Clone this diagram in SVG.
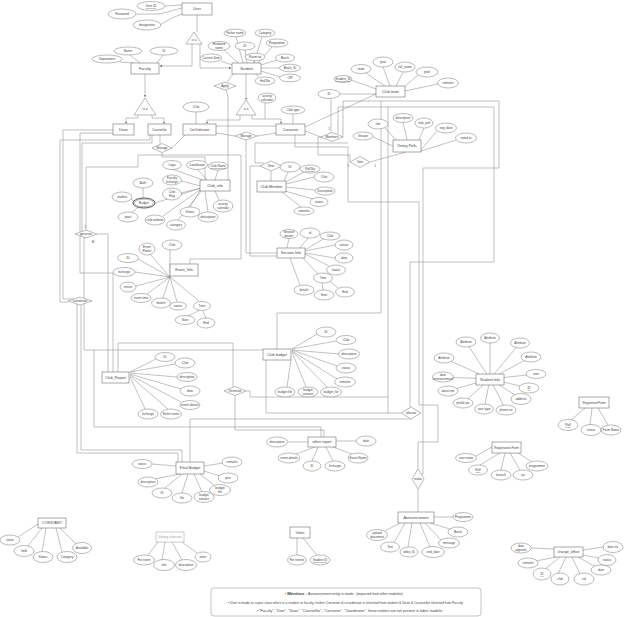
<svg xmlns="http://www.w3.org/2000/svg" width="624" height="617" viewBox="0 0 624 617">
<defs>
<marker id="arr" viewBox="0 0 6 6" refX="6" refY="3" markerWidth="4" markerHeight="4" orient="auto"><path d="M0,0 L6,3 L0,6 z" fill="#333"/></marker>
<style>
.e{fill:#fff;stroke:#555;stroke-width:0.5}
.a{fill:#fff;stroke:#666;stroke-width:0.45}
.r{fill:#fff;stroke:#666;stroke-width:0.45}
.c path{fill:none;stroke:#777;stroke-width:0.45}
.t{font-family:"Liberation Sans",Arial,sans-serif;font-size:3.7px;fill:#444;text-anchor:middle;dominant-baseline:central}
.s{font-size:3.1px}
.u{text-decoration:underline}
.k{font-family:"Liberation Sans",Arial,sans-serif;font-size:3px;fill:#444;text-anchor:middle}
.n{font-family:"Liberation Sans",Arial,sans-serif;font-size:3.1px;fill:#444}
</style>
</defs>
<rect width="624" height="617" fill="#fff"/>
<g id="connectors" class="c">
<path d="M165,6 L182,5"/>
<path d="M136,14 L160,14 L182,8"/>
<path d="M160,25 L172,18 L182,14"/>
<path d="M197,15 L197,32"/>
<path d="M192,43 L192,66 L160,66" marker-end="url(#arr)"/>
<path d="M200,43 L200,68 L231,68" marker-end="url(#arr)"/>
<path d="M130,55 L140,63"/>
<path d="M120,62 L134,63"/>
<path d="M163,55 L157,63"/>
<path d="M145,74 L145,97" marker-end="url(#arr)"/>
<path d="M138,115 L138,118 L126,118 L126,123.5" marker-end="url(#arr)"/>
<path d="M152,115 L152,118 L164,118 L164,123.5" marker-end="url(#arr)"/>
<path d="M236,37 L243,63"/>
<path d="M262,37 L254,63"/>
<path d="M224,50 L238,63"/>
<path d="M245,50 L247,63"/>
<path d="M272,47 L258,63"/>
<path d="M255,61 L253,63"/>
<path d="M221,61 L232,65"/>
<path d="M277,60 L261,65"/>
<path d="M280,68 L261,68"/>
<path d="M280,77 L261,71"/>
<path d="M259,77 L256,74"/>
<path d="M246,74 L246,99.5" marker-end="url(#arr)"/>
<path d="M240,115 L240,120 L207,120 L207,123.5" marker-end="url(#arr)"/>
<path d="M252,115 L252,119 L281,119 L281,123.5" marker-end="url(#arr)"/>
<path d="M265,103 L265,119"/>
<path d="M233,74 L227,82"/>
<path d="M226,90 L228,96 L228,180"/>
<path d="M196,112 L196,124"/>
<path d="M293,114 L293,124"/>
<path d="M305,127 L376,94"/>
<path d="M351,80 L376,89"/>
<path d="M366,73 L385,86"/>
<path d="M383,67 L390,86"/>
<path d="M403,72 L396,86"/>
<path d="M418,75 L404,87"/>
<path d="M438,84 L405,91"/>
<path d="M340,94 L376,94"/>
<path d="M385,128 L406,151"/>
<path d="M403,122 L407,140"/>
<path d="M373,137 L395,147"/>
<path d="M424,128 L419,140"/>
<path d="M437,131 L420,151"/>
<path d="M456,140 L421,151"/>
<path d="M370,162 L406,152"/>
<path d="M321,137 L318,137 L318,155 L350,155 L350,162"/>
<path d="M331,99 L331,133"/>
<path d="M305,131 L321,137"/>
<path d="M343,137 L343,101 L499,101 L499,168 L423,168 L423,474 L421,474"/>
<path d="M338,134 L338,107 L494,107 L494,262 L410,262 L410,407"/>
<path d="M381,101 L381,313 L277,313 L277,349"/>
<path d="M388,107 L388,413 L401,413"/>
<path d="M246,391 L250,391 L250,397 L388,397"/>
<path d="M266,360 L266,413 L388,413"/>
<path d="M190,462 L190,419 L411,419"/>
<path d="M295,135 L295,147 L348,147 L348,202 L419,202 L419,405 L438,405 L438,442 L418,442 L418,469"/>
<path d="M418,489 L418,512"/>
<path d="M246,140 L246,253 L277,253"/>
<path d="M260,166 L250,166 L250,256 L277,256"/>
<path d="M271,171 L271,181"/>
<path d="M264,163 L255,163 L255,143 L348,143"/>
<path d="M216,133 L235,136"/>
<path d="M257,136 L276,133"/>
<path d="M216,126 L276,126"/>
<path d="M160,135 L160,143.5"/>
<path d="M172,148 L185,135"/>
<path d="M162,152.5 L162,157 L205,157 L205,180"/>
<path d="M150,135 L150,140 L60,140 L60,302 L68,302"/>
<path d="M113,130 L63,130 L63,299 L74,299"/>
<path d="M113,133 L80,133 L80,232"/>
<path d="M152,135 L152,143 L82,143 L82,231.5"/>
<path d="M86,230 L86,167 L138,167 L138,155 L241,155 L241,259 L190,259 L190,264"/>
<path d="M77,304 L77,453 L178,453 L178,462"/>
<path d="M81,305 L81,450 L182,450 L182,462"/>
<path d="M84,237 L84,350 L263,350"/>
<path d="M97,234 L108,234 L108,372"/>
<path d="M80,236 L80,273 L113,273 L113,372"/>
<path d="M118,372 L118,343 L233,343 L233,387"/>
<path d="M94,350 L94,427 L321,427 L321,437"/>
<path d="M235,396 L235,430 L324,430 L324,437"/>
<path d="M172,169 L203,180"/>
<path d="M197,169 L207,180"/>
<path d="M218,170 L215,180"/>
<path d="M181,181 L201,186"/>
<path d="M181,193 L201,188"/>
<path d="M155,203 L201,188"/>
<path d="M190,207 L201,189"/>
<path d="M208,212 L205,191"/>
<path d="M163,216 L201,189"/>
<path d="M178,220 L202,190"/>
<path d="M219,200 L215,191"/>
<path d="M143,188 L143,198"/>
<path d="M131,199 L134,201"/>
<path d="M132,212 L139,207"/>
<path d="M288,172 L284,181"/>
<path d="M304,172 L286,182"/>
<path d="M314,177 L286,184"/>
<path d="M315,190 L286,187"/>
<path d="M313,199 L285,191"/>
<path d="M301,207 L282,192"/>
<path d="M289,238 L287,248"/>
<path d="M308,238 L300,248"/>
<path d="M323,239 L305,250"/>
<path d="M335,245 L305,251"/>
<path d="M335,258 L305,253"/>
<path d="M329,266 L305,254"/>
<path d="M318,274 L303,258"/>
<path d="M330,281 L338,288"/>
<path d="M322,283 L323,290"/>
<path d="M300,285 L290,258"/>
<path d="M170,250 L170,277"/>
<path d="M150,254 L170,277"/>
<path d="M138,259 L170,277"/>
<path d="M135,272 L170,277"/>
<path d="M136,286 L170,277"/>
<path d="M147,294 L170,277"/>
<path d="M163,298 L170,277"/>
<path d="M177,302 L170,277"/>
<path d="M199,301 L170,277"/>
<path d="M188,316 L200,310"/>
<path d="M206,318 L203,311"/>
<path d="M156,359 L130,372"/>
<path d="M175,364 L130,372"/>
<path d="M177,377 L130,373"/>
<path d="M181,389 L130,374"/>
<path d="M181,402 L130,375"/>
<path d="M168,409 L130,376"/>
<path d="M145,409 L130,377"/>
<path d="M317,334 L292,349"/>
<path d="M336,341 L292,349"/>
<path d="M339,354 L292,350"/>
<path d="M337,366 L292,350"/>
<path d="M337,379 L292,351"/>
<path d="M327,387 L292,351"/>
<path d="M306,387 L292,352"/>
<path d="M287,387 L291,360"/>
<path d="M288,442 L308,442"/>
<path d="M356,441 L336,441"/>
<path d="M296,454 L315,447"/>
<path d="M352,454 L333,447"/>
<path d="M312,461 L318,447"/>
<path d="M333,461 L326,447"/>
<path d="M152,464 L176,466"/>
<path d="M155,479 L180,474"/>
<path d="M165,488 L182,474"/>
<path d="M182,493 L188,474"/>
<path d="M202,492 L194,474"/>
<path d="M215,486 L200,474"/>
<path d="M220,476 L204,471"/>
<path d="M223,463 L204,466"/>
<path d="M490,379 L466,342"/>
<path d="M490,379 L490,338"/>
<path d="M490,379 L520,343"/>
<path d="M490,379 L531,357"/>
<path d="M490,379 L444,358"/>
<path d="M490,379 L536,374"/>
<path d="M490,379 L529,388"/>
<path d="M490,379 L521,399"/>
<path d="M490,379 L506,410"/>
<path d="M490,379 L484,409"/>
<path d="M490,379 L463,403"/>
<path d="M490,379 L448,391"/>
<path d="M490,379 L443,377"/>
<path d="M571,420 L585,408"/>
<path d="M590,425 L592,408"/>
<path d="M608,425 L598,408"/>
<path d="M476,456 L492,447"/>
<path d="M480,465 L500,453"/>
<path d="M501,470 L505,453"/>
<path d="M520,470 L510,453"/>
<path d="M532,462 L518,453"/>
<path d="M453,517 L434,517"/>
<path d="M450,529 L430,523"/>
<path d="M441,540 L425,523"/>
<path d="M430,547 L420,523"/>
<path d="M408,547 L412,523"/>
<path d="M394,543 L405,523"/>
<path d="M385,531 L400,523"/>
<path d="M297,555 L297,538"/>
<path d="M317,555 L303,538"/>
<path d="M148,555 L158,542"/>
<path d="M162,560 L165,542"/>
<path d="M182,560 L172,542"/>
<path d="M197,553 L182,542"/>
<path d="M18,537 L38,524"/>
<path d="M28,546 L42,528"/>
<path d="M42,552 L46,528"/>
<path d="M62,552 L56,528"/>
<path d="M76,544 L60,528"/>
<path d="M531,548 L554,549"/>
<path d="M536,561 L556,557"/>
<path d="M545,569 L560,557"/>
<path d="M558,574 L566,557"/>
<path d="M580,574 L572,557"/>
<path d="M594,566 L578,557"/>
<path d="M599,558 L583,555"/>
<path d="M604,547 L583,550"/>
</g>
<g id="labels">
<text class="k" x="85" y="228">1</text><text class="k" x="93" y="243">M</text>
<text class="k" x="348" y="167">1</text><text class="k" x="375" y="167">1</text>
<text class="k" x="329" y="130">1</text>
</g>
<g id="isa-user"><path class="r" d="M194,32 L202,44 L186,44 Z"/><text class="t s" x="194" y="39.5">is a</text></g>
<g id="isa-faculty"><path class="r" d="M145,98 L156,115 L134,115 Z"/><text class="t s" x="145" y="109">is a</text></g>
<g id="isa-student"><path class="r" d="M246,100 L256,115 L236,115 Z"/><text class="t s" x="246" y="109">is a</text></g>
<g id="rel-apply"><path class="r" d="M214,86 L225,82 L236,86 L225,90 Z"/><text class="t s" x="225" y="86">Apply</text></g>
<g id="rel-manage1"><path class="r" d="M152,148 L162,143.5 L172,148 L162,152.5 Z"/><text class="t s" x="162" y="148">Manage</text></g>
<g id="rel-manage2"><path class="r" d="M235,136 L246,132 L257,136 L246,140 Z"/><text class="t s" x="246" y="136">Manage</text></g>
<g id="rel-members"><path class="r" d="M321,137 L332,132.5 L343,137 L332,141.5 Z"/><text class="t s" x="332" y="137">Members</text></g>
<g id="rel-view"><path class="r" d="M260,166 L271,161 L282,166 L271,171 Z"/><text class="t s" x="271" y="166">View</text></g>
<g id="rel-vote"><path class="r" d="M350,162 L360,156.5 L370,162 L360,167.5 Z"/><text class="t s" x="360" y="162">Vote</text></g>
<g id="rel-generate1"><path class="r" d="M75,234 L86,230 L97,234 L86,238 Z"/><text class="t s" x="86" y="234">generate</text></g>
<g id="rel-coordinate"><path class="r" d="M68,301 L80,297 L92,301 L80,305 Z"/><text class="t s" x="80" y="301">coordinate</text></g>
<g id="rel-generate2"><path class="r" d="M224,391 L235,386.5 L246,391 L235,395.5 Z"/><text class="t s" x="235" y="391">Generate</text></g>
<g id="rel-allocate"><path class="r" d="M401,413 L411,407 L421,413 L411,419 Z"/><text class="t s" x="411" y="413">allocate</text></g>
<g id="rel-make"><path class="r" d="M418,469 L424,479 L418,489 L412,479 Z"/><text class="t s" x="418" y="479">make</text></g>
<g id="e-user"><rect class="e" x="182" y="3" width="30" height="12"/><text class="t" x="197" y="9">User</text></g>
<g id="e-faculty"><rect class="e" x="131" y="63" width="28" height="11"/><text class="t" x="145" y="68.5">Faculty</text></g>
<g id="e-student"><rect class="e" x="232" y="63" width="29" height="11"/><text class="t" x="246.5" y="68.5">Student</text></g>
<g id="e-dean"><rect class="e" x="113" y="124" width="21" height="11"/><text class="t" x="123.5" y="129.5">Dean</text></g>
<g id="e-counsellor"><rect class="e" x="148" y="124" width="23" height="11"/><text class="t s" x="159.5" y="129.5">Counsellor</text></g>
<g id="e-coordinator"><rect class="e" x="183" y="124" width="33" height="11"/><text class="t" x="199.5" y="129.5">CoOrdinator</text></g>
<g id="e-convener"><rect class="e" x="276" y="124" width="29" height="11"/><text class="t" x="290.5" y="129.5">Convener</text></g>
<g id="e-clubteam"><rect class="e" x="376" y="86" width="29" height="11"/><text class="t" x="390.5" y="91.5">Club team</text></g>
<g id="e-votingpolls"><rect class="e" x="393" y="140" width="28" height="12"/><text class="t" x="407" y="146">Voting Polls</text></g>
<g id="e-clubinfo"><rect class="e" x="200" y="180" width="30" height="11"/><text class="t" x="215" y="185.5">Club_info</text></g>
<g id="e-clubmember"><rect class="e" x="257" y="181" width="29" height="11"/><text class="t" x="271.5" y="186.5">Club Member</text></g>
<g id="e-sessioninfo"><rect class="e" x="277" y="248" width="28" height="10"/><text class="t" x="291" y="253">Session Info</text></g>
<g id="e-eventinfo"><rect class="e" x="170" y="264" width="28" height="12"/><text class="t" x="184" y="270">Event_Info</text></g>
<g id="e-clubreport"><rect class="e" x="102" y="372" width="27" height="11"/><text class="t" x="115.5" y="377.5">Club_Report</text></g>
<g id="e-clubbudget"><rect class="e" x="263" y="349" width="28" height="11"/><text class="t" x="277" y="354.5">Club budget</text></g>
<g id="e-otherreport"><rect class="e" x="308" y="437" width="28" height="10"/><text class="t" x="322" y="442">other report</text></g>
<g id="e-finalbudget"><rect class="e" x="176" y="462" width="28" height="12"/><text class="t" x="190" y="468">Final Budget</text></g>
<g id="e-studentinfo"><rect class="e" x="476" y="374" width="28" height="11"/><text class="t" x="490" y="379.5">Student Info</text></g>
<g id="e-registeredform"><rect class="e" x="579" y="397" width="30" height="11"/><text class="t s" x="594" y="402.5">Registered Form</text></g>
<g id="e-registrationform"><rect class="e" x="492" y="442" width="29" height="11"/><text class="t s" x="506.5" y="447.5">Registration Form</text></g>
<g id="e-announcement"><rect class="e" x="398" y="512" width="36" height="11"/><text class="t" x="416" y="517.5">Announcement</text></g>
<g id="e-votes"><rect class="e" x="290" y="527" width="20" height="11"/><text class="t" x="300" y="532.5">Votes</text></g>
<g id="e-votingchoices"><rect class="e" x="156" y="532" width="28" height="10" style="stroke:#999"/><text class="t" x="170" y="537" style="fill:#999">Voting choices</text></g>
<g id="e-constant"><rect class="e" x="38" y="518" width="28" height="10"/><text class="t" x="52" y="523">CONSTANT</text></g>
<g id="e-chargeoffice"><rect class="e" x="554" y="547" width="29" height="10"/><text class="t" x="568.5" y="552">charge_office</text></g>
<g id="attr-user"><ellipse class="a" cx="151" cy="6" rx="14" ry="4.5"/><text class="t s u" x="151" y="6">User ID</text><ellipse class="a" cx="122" cy="14" rx="14" ry="5"/><text class="t s" x="122" y="14">Password</text><ellipse class="a" cx="147" cy="25" rx="14" ry="5"/><text class="t s" x="147" y="25">designation</text></g>
<g id="attr-faculty"><ellipse class="a" cx="128" cy="51" rx="14" ry="4"/><text class="t s" x="128" y="51">Name</text><ellipse class="a" cx="107" cy="59" rx="15" ry="4"/><text class="t s" x="107" y="59">Department</text><ellipse class="a" cx="164" cy="51" rx="14" ry="4"/><text class="t s" x="164" y="51">ID</text></g>
<g id="attr-student">
<ellipse class="a" cx="235" cy="33" rx="11" ry="3.8"/><text class="t s" x="235" y="33">Father name</text>
<ellipse class="a" cx="265" cy="33" rx="10" ry="3.8"/><text class="t s" x="265" y="33">Category</text>
<ellipse class="a" cx="219" cy="46" rx="11" ry="4.5"/><text class="t s" x="219" y="46"><tspan x="219" dy="-1.6">Husband</tspan><tspan x="219" dy="3.2">name</tspan></text>
<ellipse class="a" cx="245" cy="46" rx="10" ry="4"/><text class="t s" x="245" y="46">ID</text>
<ellipse class="a" cx="277" cy="43" rx="11" ry="4"/><text class="t s" x="277" y="43">Programme</text>
<ellipse class="a" cx="255" cy="57" rx="10" ry="3.8"/><text class="t s" x="255" y="57">Room no</text>
<ellipse class="a" cx="211" cy="58" rx="11" ry="4"/><text class="t s" x="211" y="58">Current Sem</text>
<ellipse class="a" cx="285" cy="58" rx="9.5" ry="4"/><text class="t s" x="285" y="58">Batch</text>
<ellipse class="a" cx="290" cy="68" rx="10.5" ry="3.8"/><text class="t s" x="290" y="68">Batch_ID</text>
<ellipse class="a" cx="290" cy="78" rx="10.5" ry="3.8"/><text class="t s" x="290" y="78">CPI</text>
<ellipse class="a" cx="265" cy="81" rx="10" ry="4"/><text class="t s" x="265" y="81">Hall No</text>
<ellipse class="a" cx="267" cy="98" rx="9" ry="5"/><text class="t s" x="267" y="98"><tspan x="267" dy="-1.6">activity</tspan><tspan x="267" dy="3.2">calendar</tspan></text>
</g>
<g id="attr-coordinator"><ellipse class="a" cx="196" cy="107" rx="13" ry="5"/><text class="t s" x="196" y="107">Club</text></g>
<g id="attr-convener"><ellipse class="a" cx="293" cy="110" rx="12" ry="4"/><text class="t s" x="293" y="110">Club type</text></g>
<g id="attr-clubteam">
<ellipse class="a" cx="343" cy="79" rx="9" ry="3.5"/><text class="t s u" x="343" y="79">Student_ID</text>
<ellipse class="a" cx="361" cy="69" rx="10" ry="4.5"/><text class="t s" x="361" y="69">team</text>
<ellipse class="a" cx="383" cy="62" rx="10" ry="5"/><text class="t s" x="383" y="62">year</text>
<ellipse class="a" cx="405" cy="67" rx="10" ry="5"/><text class="t s" x="405" y="67">full_name</text>
<ellipse class="a" cx="427" cy="72" rx="11" ry="5"/><text class="t s" x="427" y="72">pole</text>
<ellipse class="a" cx="448" cy="83" rx="10.5" ry="5"/><text class="t s" x="448" y="83">remarks</text>
<ellipse class="a" cx="329" cy="94" rx="11" ry="4.5"/><text class="t s" x="329" y="94">ID</text>
</g>
<g id="attr-votingpolls">
<ellipse class="a" cx="378" cy="124" rx="10" ry="5"/><text class="t s" x="378" y="124">title</text>
<ellipse class="a" cx="403" cy="118" rx="10" ry="4.5"/><text class="t s" x="403" y="118">description</text>
<ellipse class="a" cx="363" cy="136" rx="10" ry="4"/><text class="t s" x="363" y="136">Groups</text>
<ellipse class="a" cx="424" cy="123" rx="9" ry="5"/><text class="t s" x="424" y="123">club_poll</text>
<ellipse class="a" cx="446" cy="128" rx="10.5" ry="5"/><text class="t s" x="446" y="128">exp_date</text>
<ellipse class="a" cx="466" cy="138" rx="10.5" ry="5"/><text class="t s" x="466" y="138">voted to</text>
</g>
<g id="attr-clubinfo">
<ellipse class="a" cx="172" cy="165" rx="9.5" ry="4.5"/><text class="t s" x="172" y="165">Logo</text>
<ellipse class="a" cx="197" cy="165" rx="10.5" ry="4.5"/><text class="t s" x="197" y="165">Coordinator</text>
<ellipse class="a" cx="218" cy="166" rx="10" ry="4"/><text class="t s u" x="218" y="166">Club Name</text>
<ellipse class="a" cx="172" cy="180" rx="9.5" ry="5"/><text class="t s" x="172" y="180"><tspan x="172" dy="-1.6">Faculty</tspan><tspan x="172" dy="3.2">Incharge</tspan></text>
<ellipse class="a" cx="143" cy="183" rx="10" ry="5"/><text class="t s" x="143" y="183">Auth</text>
<ellipse class="a" cx="172" cy="194" rx="9.5" ry="6"/><text class="t s" x="172" y="194"><tspan x="172" dy="-1.6">Club</tspan><tspan x="172" dy="3.2">Flag</tspan></text>
<ellipse class="a" cx="144" cy="203" rx="11" ry="5" style="stroke:#444;stroke-width:0.9"/><ellipse class="a" cx="144" cy="203" rx="9.5" ry="3.8"/><text class="t s" x="144" y="203">Budget</text>
<ellipse class="a" cx="122" cy="197" rx="10" ry="5"/><text class="t s" x="122" y="197">student</text>
<ellipse class="a" cx="128" cy="217" rx="10" ry="5"/><text class="t s" x="128" y="217">sport</text>
<ellipse class="a" cx="155" cy="220" rx="10" ry="5"/><text class="t s" x="155" y="220">club website</text>
<ellipse class="a" cx="176" cy="225" rx="9.5" ry="5"/><text class="t s" x="176" y="225">category</text>
<ellipse class="a" cx="190" cy="212" rx="10" ry="5"/><text class="t s" x="190" y="212">Status</text>
<ellipse class="a" cx="208" cy="217" rx="10" ry="5"/><text class="t s" x="208" y="217">description</text>
<ellipse class="a" cx="223" cy="206" rx="10" ry="6"/><text class="t s" x="223" y="206"><tspan x="223" dy="-1.6">activity</tspan><tspan x="223" dy="3.2">calendar</tspan></text>
</g>
<g id="attr-clubmember">
<ellipse class="a" cx="290" cy="167" rx="10" ry="5"/><text class="t s" x="290" y="167">ID</text>
<ellipse class="a" cx="310" cy="169" rx="10" ry="4"/><text class="t s u" x="310" y="169">Roll No</text>
<ellipse class="a" cx="324" cy="177" rx="10" ry="5"/><text class="t s" x="324" y="177">Club</text>
<ellipse class="a" cx="325" cy="191" rx="10" ry="4"/><text class="t s" x="325" y="191">Description</text>
<ellipse class="a" cx="319" cy="202" rx="9" ry="4.5"/><text class="t s" x="319" y="202">status</text>
<ellipse class="a" cx="304" cy="211" rx="10" ry="4"/><text class="t s" x="304" y="211">remarks</text>
</g>
<g id="attr-sessioninfo">
<ellipse class="a" cx="289" cy="234" rx="9" ry="4.5"/><text class="t s" x="289" y="234"><tspan x="289" dy="-1.6">Session</tspan><tspan x="289" dy="3.2">poster</tspan></text>
<ellipse class="a" cx="310" cy="233" rx="10" ry="5"/><text class="t s" x="310" y="233">id</text>
<ellipse class="a" cx="330" cy="236" rx="10" ry="4"/><text class="t s" x="330" y="236">Club</text>
<ellipse class="a" cx="344" cy="245" rx="9" ry="5"/><text class="t s" x="344" y="245">venue</text>
<ellipse class="a" cx="344" cy="258" rx="9" ry="5"/><text class="t s" x="344" y="258">date</text>
<ellipse class="a" cx="336" cy="270" rx="9.5" ry="5"/><text class="t s" x="336" y="270">status</text>
<ellipse class="a" cx="323" cy="278" rx="9.5" ry="5"/><text class="t s" x="323" y="278">Time</text>
<ellipse class="a" cx="345" cy="292" rx="9.5" ry="5"/><text class="t s" x="345" y="292">End</text>
<ellipse class="a" cx="324" cy="295" rx="10" ry="5"/><text class="t s" x="324" y="295">Start</text>
<ellipse class="a" cx="304" cy="290" rx="10" ry="5"/><text class="t s" x="304" y="290">details</text>
</g>
<g id="attr-eventinfo">
<ellipse class="a" cx="172" cy="245" rx="10" ry="5"/><text class="t s" x="172" y="245">Club</text>
<ellipse class="a" cx="147" cy="249" rx="8" ry="6"/><text class="t s" x="147" y="249"><tspan x="147" dy="-1.6">Event</tspan><tspan x="147" dy="3.2">Poster</tspan></text>
<ellipse class="a" cx="128" cy="258" rx="10.5" ry="4.5"/><text class="t s" x="128" y="258">ID</text>
<ellipse class="a" cx="124" cy="272" rx="11" ry="4.5"/><text class="t s" x="124" y="272">Incharge</text>
<ellipse class="a" cx="128" cy="287" rx="8" ry="5"/><text class="t s" x="128" y="287">venue</text>
<ellipse class="a" cx="141" cy="298" rx="10" ry="4.5"/><text class="t s" x="141" y="298">event time</text>
<ellipse class="a" cx="161" cy="303" rx="9.5" ry="5"/><text class="t s" x="161" y="303">details</text>
<ellipse class="a" cx="178" cy="306" rx="8.5" ry="4"/><text class="t s" x="178" y="306">status</text>
<ellipse class="a" cx="202" cy="306" rx="8.5" ry="4.5"/><text class="t s" x="202" y="306">Time</text>
<ellipse class="a" cx="185" cy="320" rx="10" ry="4.5"/><text class="t s" x="185" y="320">Start</text>
<ellipse class="a" cx="206" cy="323" rx="9" ry="5"/><text class="t s" x="206" y="323">End</text>
</g>
<g id="attr-clubreport">
<ellipse class="a" cx="165" cy="357" rx="10" ry="4.5"/><text class="t s" x="165" y="357">ID</text>
<ellipse class="a" cx="185" cy="363" rx="10" ry="5"/><text class="t s" x="185" y="363">Club</text>
<ellipse class="a" cx="187" cy="377" rx="10" ry="4.5"/><text class="t s" x="187" y="377">description</text>
<ellipse class="a" cx="190" cy="391" rx="10" ry="5"/><text class="t s" x="190" y="391">date</text>
<ellipse class="a" cx="190" cy="405" rx="10" ry="4.5"/><text class="t s" x="190" y="405">event details</text>
<ellipse class="a" cx="171" cy="414" rx="10.5" ry="5"/><text class="t s" x="171" y="414">Event name</text>
<ellipse class="a" cx="148" cy="414" rx="10" ry="5"/><text class="t s" x="148" y="414">Incharge</text>
</g>
<g id="attr-clubbudget">
<ellipse class="a" cx="326" cy="332" rx="10" ry="5"/><text class="t s" x="326" y="332">ID</text>
<ellipse class="a" cx="346" cy="340" rx="10" ry="4.5"/><text class="t s" x="346" y="340">Club</text>
<ellipse class="a" cx="349" cy="354" rx="10.5" ry="5"/><text class="t s" x="349" y="354">description</text>
<ellipse class="a" cx="346" cy="368" rx="10" ry="5"/><text class="t s" x="346" y="368">status</text>
<ellipse class="a" cx="345" cy="382" rx="10.5" ry="5"/><text class="t s" x="345" y="382">remarks</text>
<ellipse class="a" cx="331" cy="392" rx="10.5" ry="5"/><text class="t s" x="331" y="392">budget_for</text>
<ellipse class="a" cx="308" cy="392" rx="10" ry="5"/><text class="t s" x="308" y="392"><tspan x="308" dy="-1.6">budget</tspan><tspan x="308" dy="3.2">amount</tspan></text>
<ellipse class="a" cx="285" cy="392" rx="10" ry="5"/><text class="t s" x="285" y="392">budget file</text>
</g>
<g id="attr-otherreport">
<ellipse class="a" cx="277" cy="442" rx="10.5" ry="5"/><text class="t s" x="277" y="442">description</text>
<ellipse class="a" cx="366" cy="441" rx="10" ry="5"/><text class="t s" x="366" y="441">date</text>
<ellipse class="a" cx="289" cy="458" rx="11" ry="5"/><text class="t s" x="289" y="458">event details</text>
<ellipse class="a" cx="358" cy="458" rx="10" ry="5"/><text class="t s" x="358" y="458">Event Name</text>
<ellipse class="a" cx="312" cy="466" rx="9" ry="5"/><text class="t s" x="312" y="466">ID</text>
<ellipse class="a" cx="335" cy="466" rx="10" ry="5"/><text class="t s" x="335" y="466">Incharge</text>
</g>
<g id="attr-finalbudget">
<ellipse class="a" cx="142" cy="464" rx="10" ry="4.5"/><text class="t s" x="142" y="464">status</text>
<ellipse class="a" cx="148" cy="482" rx="10" ry="5"/><text class="t s" x="148" y="482">description</text>
<ellipse class="a" cx="162" cy="493" rx="10" ry="5"/><text class="t s" x="162" y="493">ID</text>
<ellipse class="a" cx="182" cy="498" rx="10" ry="5"/><text class="t s" x="182" y="498">file</text>
<ellipse class="a" cx="204" cy="497" rx="10" ry="5.5"/><text class="t s" x="204" y="497"><tspan x="204" dy="-1.6">budget</tspan><tspan x="204" dy="3.2">amount</tspan></text>
<ellipse class="a" cx="220" cy="490" rx="10.5" ry="5.5"/><text class="t s" x="220" y="490"><tspan x="220" dy="-1.6">budget</tspan><tspan x="220" dy="3.2">file</tspan></text>
<ellipse class="a" cx="228" cy="478" rx="10" ry="5"/><text class="t s" x="228" y="478">year</text>
<ellipse class="a" cx="232" cy="462" rx="10" ry="5"/><text class="t s" x="232" y="462">remarks</text>
</g>
<g id="attr-studentinfo">
<ellipse class="a" cx="466" cy="342" rx="10" ry="5"/><text class="t s" x="466" y="342">Attribute</text>
<ellipse class="a" cx="490" cy="338" rx="9.5" ry="5"/><text class="t s" x="490" y="338">Attribute</text>
<ellipse class="a" cx="520" cy="343" rx="9.5" ry="5"/><text class="t s" x="520" y="343">Attribute</text>
<ellipse class="a" cx="531" cy="357" rx="10" ry="5"/><text class="t s" x="531" y="357">Attribute</text>
<ellipse class="a" cx="444" cy="358" rx="10" ry="5"/><text class="t s" x="444" y="358">Attribute</text>
<ellipse class="a" cx="536" cy="374" rx="10" ry="4.5"/><text class="t s" x="536" y="374">user</text>
<ellipse class="a" cx="529" cy="388" rx="10" ry="5"/><text class="t s u" x="529" y="388">ID</text>
<ellipse class="a" cx="521" cy="399" rx="10" ry="5.5"/><text class="t s" x="521" y="399">address</text>
<ellipse class="a" cx="506" cy="410" rx="10" ry="5"/><text class="t s" x="506" y="410">phone no</text>
<ellipse class="a" cx="484" cy="409" rx="9.5" ry="5"/><text class="t s" x="484" y="409">user type</text>
<ellipse class="a" cx="463" cy="403" rx="10" ry="5"/><text class="t s" x="463" y="403">profile pic</text>
<ellipse class="a" cx="448" cy="391" rx="10" ry="5"/><text class="t s" x="448" y="391">about me</text>
<ellipse class="a" cx="443" cy="377" rx="10.5" ry="5"/><text class="t s" x="443" y="377"><tspan x="443" dy="-1.6">date</tspan><tspan x="443" dy="3.2">announcement</tspan></text>
</g>
<g id="attr-registeredform">
<ellipse class="a" cx="568" cy="425" rx="10" ry="5.5"/><text class="t s u" x="568" y="425">Roll</text>
<ellipse class="a" cx="591" cy="430" rx="10" ry="5.5"/><text class="t s" x="591" y="430">status</text>
<ellipse class="a" cx="611" cy="430" rx="10" ry="5"/><text class="t s" x="611" y="430">Form Name</text>
</g>
<g id="attr-registrationform">
<ellipse class="a" cx="466" cy="458" rx="10.5" ry="4.5"/><text class="t s" x="466" y="458">user name</text>
<ellipse class="a" cx="478" cy="470" rx="9.5" ry="5"/><text class="t s u" x="478" y="470">Roll</text>
<ellipse class="a" cx="501" cy="475" rx="10" ry="5"/><text class="t s" x="501" y="475">branch</text>
<ellipse class="a" cx="523" cy="475" rx="10" ry="5"/><text class="t s" x="523" y="475">cpi</text>
<ellipse class="a" cx="537" cy="466" rx="11" ry="5"/><text class="t s" x="537" y="466">programme</text>
</g>
<g id="attr-announcement">
<ellipse class="a" cx="463" cy="517" rx="10" ry="4.5"/><text class="t s" x="463" y="517">Programme</text>
<ellipse class="a" cx="458" cy="532" rx="10" ry="5"/><text class="t s" x="458" y="532">Batch</text>
<ellipse class="a" cx="449" cy="543" rx="10.5" ry="5"/><text class="t s" x="449" y="543">message</text>
<ellipse class="a" cx="433" cy="552" rx="11.5" ry="5.5"/><text class="t s" x="433" y="552">end_date</text>
<ellipse class="a" cx="409" cy="552" rx="9" ry="5"/><text class="t s" x="409" y="552">video_ID</text>
<ellipse class="a" cx="390" cy="547" rx="9.5" ry="5"/><text class="t s" x="390" y="547">Text</text>
<ellipse class="a" cx="377" cy="535" rx="10.5" ry="5.5"/><text class="t s" x="377" y="535"><tspan x="377" dy="-1.6">upload</tspan><tspan x="377" dy="3.2">document</tspan></text>
</g>
<g id="attr-votes">
<ellipse class="a" cx="297" cy="560" rx="9.5" ry="5"/><text class="t s" x="297" y="560">For events</text>
<ellipse class="a" cx="320" cy="560" rx="10" ry="5"/><text class="t s u" x="320" y="560">Student ID</text>
</g>
<g id="attr-votingchoices">
<ellipse class="a" cx="144" cy="560" rx="10.5" ry="5"/><text class="t s" x="144" y="560">For event</text>
<ellipse class="a" cx="164" cy="565" rx="10.5" ry="5.5"/><text class="t s" x="164" y="565">title</text>
<ellipse class="a" cx="186" cy="565" rx="10.5" ry="5.5"/><text class="t s" x="186" y="565">description</text>
<ellipse class="a" cx="203" cy="557" rx="8" ry="5"/><text class="t s" x="203" y="557">voter</text>
</g>
<g id="attr-constant">
<ellipse class="a" cx="10" cy="540" rx="10" ry="5"/><text class="t s" x="10" y="540">value</text>
<ellipse class="a" cx="24" cy="551" rx="10" ry="5.5"/><text class="t s" x="24" y="551">field</text>
<ellipse class="a" cx="43" cy="557" rx="10" ry="5.5"/><text class="t s" x="43" y="557">Status</text>
<ellipse class="a" cx="67" cy="557" rx="10" ry="5.5"/><text class="t s" x="67" y="557">Category</text>
<ellipse class="a" cx="82" cy="548" rx="9.5" ry="5.5"/><text class="t s" x="82" y="548">Available</text>
</g>
<g id="attr-chargeoffice">
<ellipse class="a" cx="521" cy="548" rx="10" ry="5"/><text class="t s" x="521" y="548"><tspan x="521" dy="-1.6">date</tspan><tspan x="521" dy="3.2">approve</tspan></text>
<ellipse class="a" cx="528" cy="563" rx="10" ry="5"/><text class="t s" x="528" y="563">remarks</text>
<ellipse class="a" cx="542" cy="574" rx="9" ry="6"/><text class="t s u" x="542" y="574">ID</text>
<ellipse class="a" cx="560" cy="579" rx="9" ry="6"/><text class="t s" x="560" y="579">club</text>
<ellipse class="a" cx="584" cy="579" rx="10" ry="6"/><text class="t s" x="584" y="579">rid</text>
<ellipse class="a" cx="601" cy="570" rx="10" ry="5"/><text class="t s" x="601" y="570">date</text>
<ellipse class="a" cx="607" cy="560" rx="9" ry="5.5"/><text class="t s" x="607" y="560">status</text>
<ellipse class="a" cx="613" cy="547" rx="10" ry="5.5"/><text class="t s" x="613" y="547">date rec</text>
</g>
<g id="note">
<rect x="211" y="588" width="270" height="28" rx="3" fill="#fff" stroke="#888" stroke-width="0.5"/>
<text class="n" x="285" y="595" textLength="118" lengthAdjust="spacingAndGlyphs">•   <tspan font-weight="bold" font-size="4px">Mention</tspan> :- Announcement entity is made , (impacted from other modules)</text>
<text class="n" x="228" y="604" textLength="235" lengthAdjust="spacingAndGlyphs">•  User is made as super class which is a student or faculty, further Convener &amp; co'ordinator is inherited from student &amp; Dean &amp; Counsellor inherited from Faculty</text>
<text class="n" x="257" y="612" textLength="186" lengthAdjust="spacingAndGlyphs">•  "Faculty", "User", "Dean", "Counsellor", "Convener", "Coordinator", these entities are not present in fabric module.</text>
</g>
</svg>
